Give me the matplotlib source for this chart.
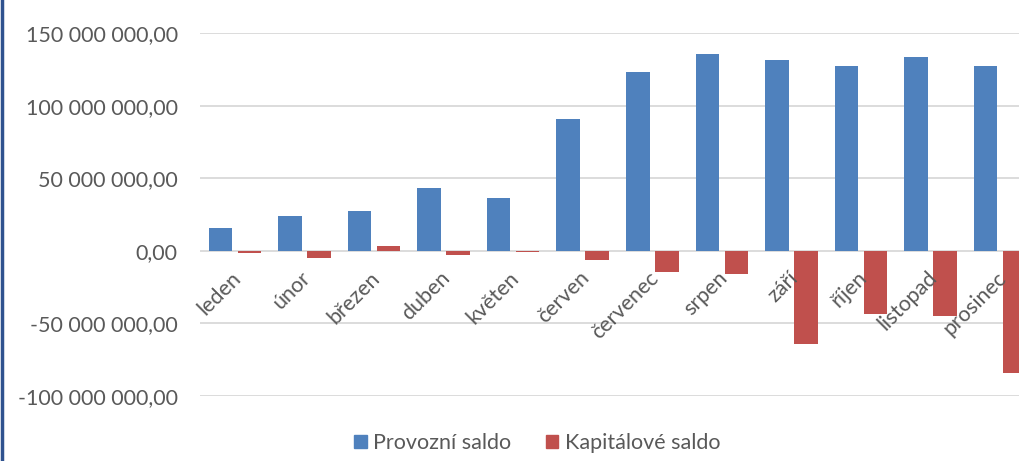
import numpy as np
import matplotlib.pyplot as plt
from matplotlib.lines import Line2D
from matplotlib.patches import Patch
from matplotlib.ticker import FuncFormatter

mesice = ["leden", "únor", "březen", "duben", "květen", "červen",
          "červenec", "srpen", "září", "říjen", "listopad", "prosinec"]
provozni_saldo = [15.7e6, 23.8e6, 27.4e6, 43.5e6, 36.2e6, 90.6e6,
                  123.1e6, 135.5e6, 131.7e6, 127.5e6, 133.3e6, 127.5e6]
kapitalove_saldo = [-1.5e6, -5.0e6, 3.3e6, -2.9e6, -1.0e6, -6.1e6,
                    -14.8e6, -16.0e6, -63.9e6, -43.5e6, -44.6e6, -84.2e6]

plt.rcParams['font.family'] = ['Lato', 'DejaVu Sans']
seda = '#595959'

W, H = 1019, 461
fig = plt.figure(figsize=(W / 100, H / 100), dpi=100)
ax = fig.add_axes([200 / W, (H - 396) / H, 835 / W, 363 / H])

x = np.arange(1, len(mesice) + 1)
ax.bar(x - 0.208, provozni_saldo, width=0.338, color='#4F81BD', zorder=3)
ax.bar(x + 0.208, kapitalove_saldo, width=0.338, color='#C0504D', zorder=3)

ax.set_xlim(0.5, 12.5)
ax.set_ylim(-100e6, 150e6)
ax.set_yticks(np.arange(-100e6, 150e6 + 1, 50e6))

# formát jako v Excelu: 150 000 000,00
def cz_format(v, pos):
    return f"{v:,.2f}".replace(",", " ").replace(".", ",")

ax.yaxis.set_major_formatter(FuncFormatter(cz_format))
ax.tick_params(axis='y', length=0, pad=16, labelsize=15.5, labelcolor=seda)
ax.yaxis.grid(True, color='#D9D9D9', lw=1.3)
ax.set_axisbelow(True)
for s in ax.spines.values():
    s.set_visible(False)

# popisky kategorií u nulové osy
ax.set_xticks([])
for xi, m in zip(x, mesice):
    ax.annotate(m, (xi, 0), xytext=(3, -24), textcoords='offset pixels',
                rotation=45, ha='right', va='center', rotation_mode='anchor',
                fontsize=15.5, color=seda, annotation_clip=False)

fig.add_artist(Line2D([0.0015, 0.0015], [0, 1], transform=fig.transFigure,
                      color='#2F528F', lw=2.5))

handles = [Patch(color='#4F81BD', label='Provozní saldo'),
           Patch(color='#C0504D', label='Kapitálové saldo')]
leg = fig.legend(handles=handles, loc='center', bbox_to_anchor=(537 / W, (H - 443) / H),
                 ncol=2, frameon=False, handlelength=0.6, handleheight=0.6,
                 handletextpad=0.3, columnspacing=1.6, fontsize=15.5)
for t in leg.get_texts():
    t.set_color(seda)

fig.savefig("out.png", dpi=100)
